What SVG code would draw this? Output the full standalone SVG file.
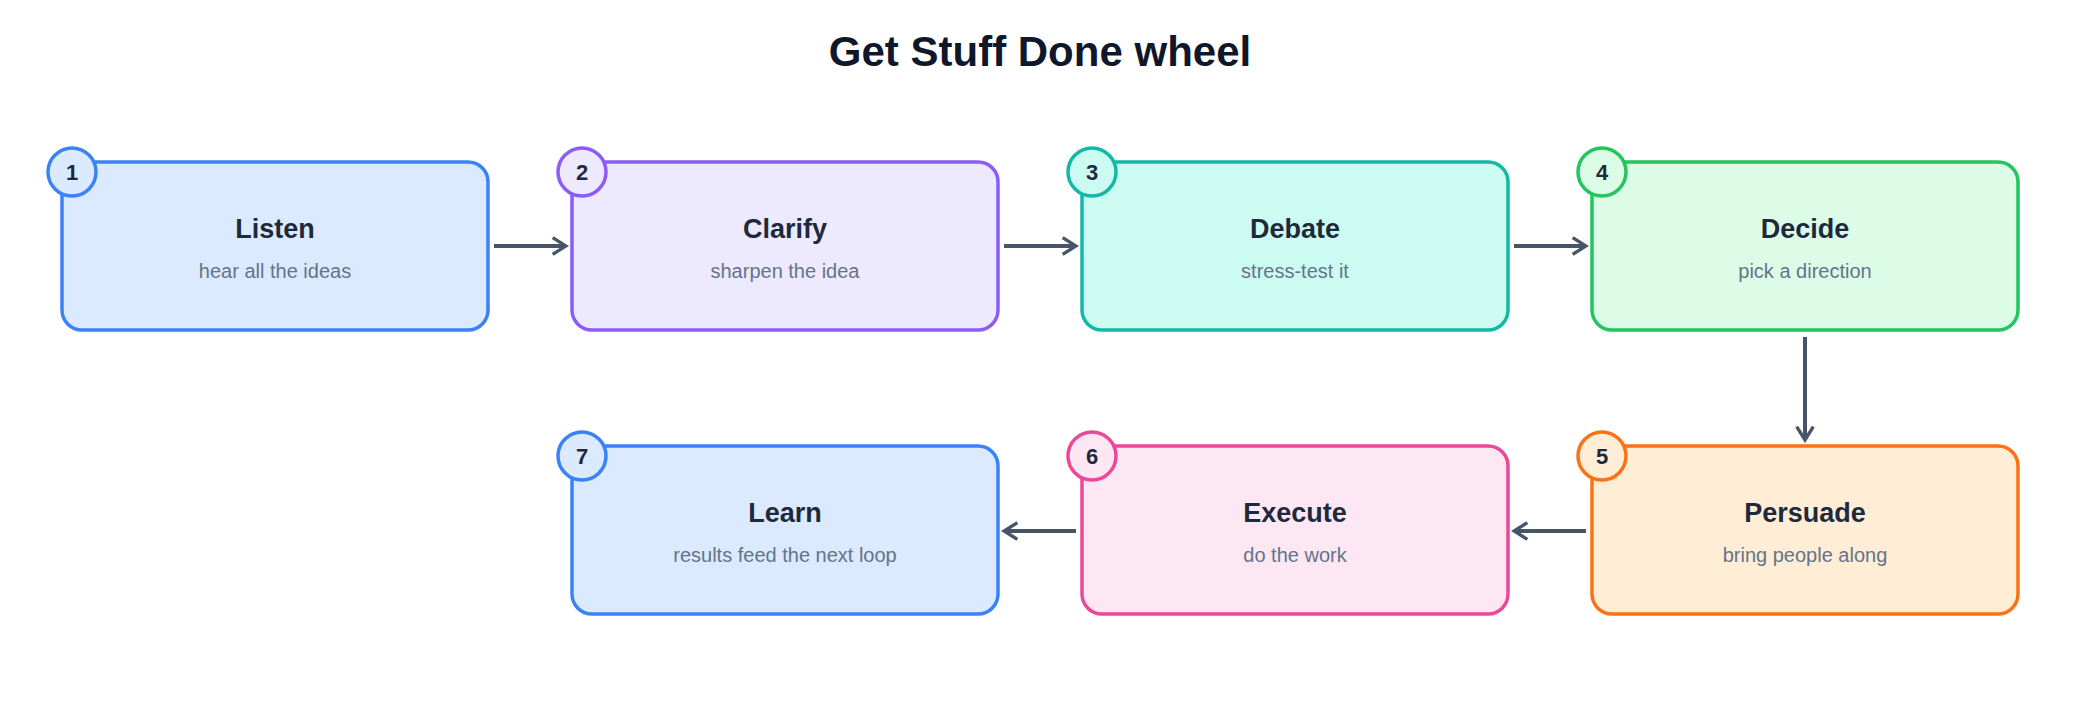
<svg xmlns="http://www.w3.org/2000/svg" width="2080" height="704" viewBox="0 0 2080 704">
<style>
text{font-family:"Liberation Sans",Arial,sans-serif;text-anchor:middle}
.t{font-size:27px;font-weight:bold;fill:#1e293b}
.s{font-size:20px;fill:#64748b}
.n{font-size:22px;font-weight:bold;fill:#1e293b}
.c{fill:none;stroke:#475569;stroke-width:4;marker-end:url(#a)}
rect,circle{stroke-width:3.5}
</style>
<defs><marker id="a" viewBox="0 0 12 12" refX="10" refY="6" markerWidth="5" markerHeight="5" orient="auto" markerUnits="strokeWidth"><path d="M2 1L10 6L2 11" fill="none" stroke="#475569" stroke-width="2"/></marker></defs>
<rect width="2080" height="704" fill="#fff"/>
<text x="1040" y="66" style="font-size:42px;font-weight:bold;fill:#0f172a">Get Stuff Done wheel</text>
<g id="connectors">
<path class="c" d="M494 246H566"/>
<path class="c" d="M1004 246H1076"/>
<path class="c" d="M1514 246H1586"/>
<path class="c" d="M1805 337V440"/>
<path class="c" d="M1586 531H1514"/>
<path class="c" d="M1076 531H1004"/>
</g>
<g id="n1"><rect x="62" y="162" width="426" height="168" rx="20" fill="#dbeafe" stroke="#3b82f6"/><circle cx="72" cy="172" r="24" fill="#dbeafe" stroke="#3b82f6"/><text class="n" x="72" y="180">1</text><text class="t" x="275" y="238">Listen</text><text class="s" x="275" y="278">hear all the ideas</text></g>
<g id="n2"><rect x="572" y="162" width="426" height="168" rx="20" fill="#ede9fe" stroke="#8b5cf6"/><circle cx="582" cy="172" r="24" fill="#ede9fe" stroke="#8b5cf6"/><text class="n" x="582" y="180">2</text><text class="t" x="785" y="238">Clarify</text><text class="s" x="785" y="278">sharpen the idea</text></g>
<g id="n3"><rect x="1082" y="162" width="426" height="168" rx="20" fill="#ccfbf1" stroke="#14b8a6"/><circle cx="1092" cy="172" r="24" fill="#ccfbf1" stroke="#14b8a6"/><text class="n" x="1092" y="180">3</text><text class="t" x="1295" y="238">Debate</text><text class="s" x="1295" y="278">stress-test it</text></g>
<g id="n4"><rect x="1592" y="162" width="426" height="168" rx="20" fill="#dcfce7" stroke="#22c55e"/><circle cx="1602" cy="172" r="24" fill="#dcfce7" stroke="#22c55e"/><text class="n" x="1602" y="180">4</text><text class="t" x="1805" y="238">Decide</text><text class="s" x="1805" y="278">pick a direction</text></g>
<g id="n5"><rect x="1592" y="446" width="426" height="168" rx="20" fill="#ffedd5" stroke="#f97316"/><circle cx="1602" cy="456" r="24" fill="#ffedd5" stroke="#f97316"/><text class="n" x="1602" y="464">5</text><text class="t" x="1805" y="522">Persuade</text><text class="s" x="1805" y="562">bring people along</text></g>
<g id="n6"><rect x="1082" y="446" width="426" height="168" rx="20" fill="#fce7f3" stroke="#ec4899"/><circle cx="1092" cy="456" r="24" fill="#fce7f3" stroke="#ec4899"/><text class="n" x="1092" y="464">6</text><text class="t" x="1295" y="522">Execute</text><text class="s" x="1295" y="562">do the work</text></g>
<g id="n7"><rect x="572" y="446" width="426" height="168" rx="20" fill="#dbeafe" stroke="#3b82f6"/><circle cx="582" cy="456" r="24" fill="#dbeafe" stroke="#3b82f6"/><text class="n" x="582" y="464">7</text><text class="t" x="785" y="522">Learn</text><text class="s" x="785" y="562">results feed the next loop</text></g>
</svg>
